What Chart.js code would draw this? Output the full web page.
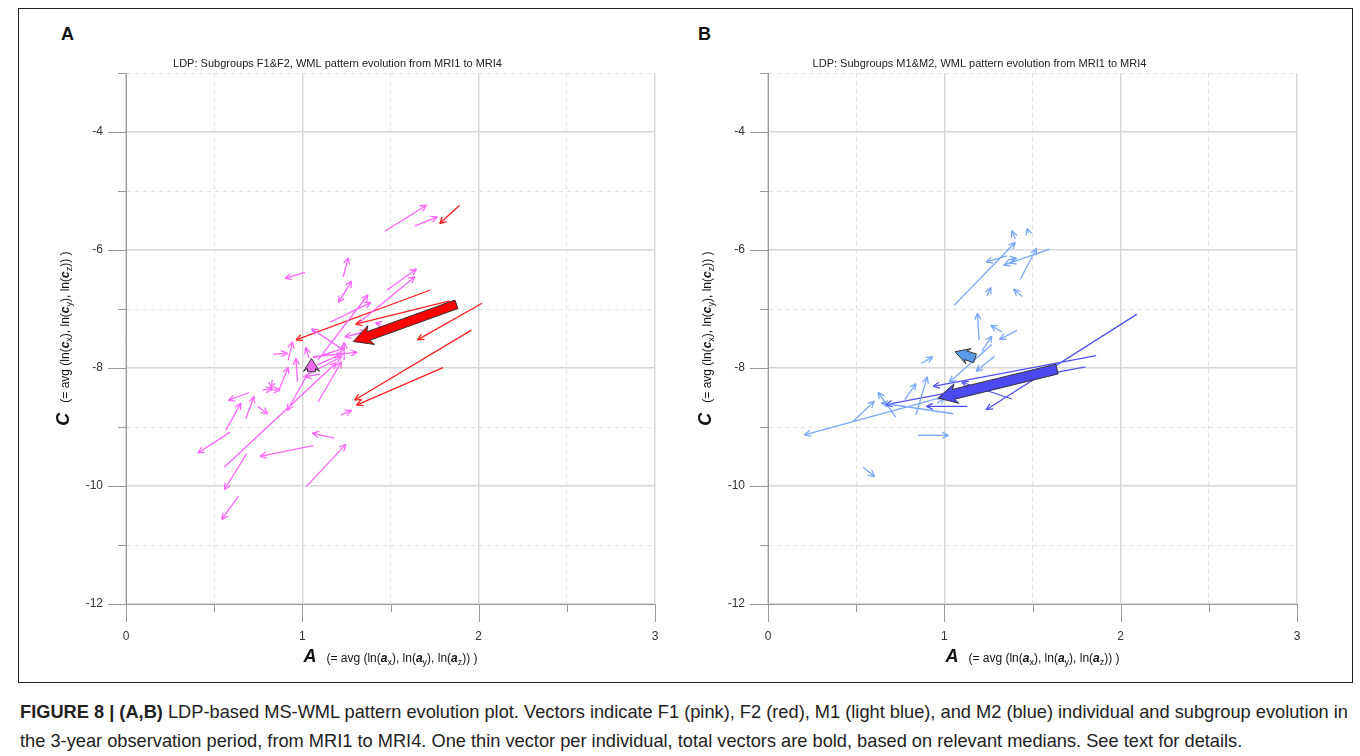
<!DOCTYPE html>
<html>
<head>
<title>LDP pattern evolution</title>
<script src="https://cdn.jsdelivr.net/npm/chart.js"></script>
<style>
    body {
        margin: 0;
        width: 1360px;
        height: 756px;
        position: relative;
        overflow: hidden;
        background: #fff;
        font-family: "Liberation Sans", Arial, sans-serif;
    }
    .frame {
        position: absolute;
        left: 18px;
        top: 8px;
        width: 1333px;
        height: 673px;
        border: 1px solid #222;
    }
    .panel { position: absolute; top: 40px; height: 640px; }
    #panelA { left: 20px; width: 672px; }
    #panelB { left: 662px; width: 676px; }
    .letter {
        position: absolute;
        top: 24px;
        font-size: 18px;
        font-weight: bold;
        color: #111;
    }
    .caption {
        position: absolute;
        left: 20px;
        top: 697px;
        font-family: "Liberation Sans Narrow", "Liberation Sans", Arial, sans-serif;
        font-size: 18.5px;
        line-height: 29px;
        color: #222;
        white-space: nowrap;
        transform-origin: 0 0;
    }
</style>
</head>
<body>
<div class="frame"></div>
<div class="letter" style="left:61px">A</div>
<div class="letter" style="left:698px">B</div>
<div class="panel" id="panelA"><canvas id="chartA"></canvas></div>
<div class="panel" id="panelB"><canvas id="chartB"></canvas></div>
<div class="caption" id="caption">
    <div><span id="firstLine"><b>FIGURE 8 | (A,B)</b> LDP-based MS-WML pattern evolution plot. Vectors indicate F1 (pink), F2 (red), M1 (light blue), and M2 (blue) individual and subgroup evolution in</span></div>
    <div>the 3-year observation period, from MRI1 to MRI4. One thin vector per individual, total vectors are bold, based on relevant medians. See text for details.</div>
</div>

<script>
    // each vector: start [A, C] -> end [A, C]
    const f1Start = [[1.468,-5.679],[1.638,-5.589],[1.015,-6.377],[1.232,-6.451],[1.232,-6.761],[1.26,-6.62],
        [1.481,-6.676],[1.317,-7.239],[1.157,-7.223],[1.089,-7.859],[1.445,-7.255],[1.223,-7.673],[1.326,-7.412],
        [1.237,-7.864],[1.061,-7.808],[0.835,-7.763],[0.92,-7.864],[1.038,-7.831],[1.005,-8.147],[1.099,-8.102],
        [0.973,-8.232],[0.698,-8.414],[0.774,-8.369],[0.83,-8.2],[0.817,-8.369],[0.864,-8.392],[0.679,-8.859],
        [0.566,-9.056],[0.747,-8.651],[0.591,-9.085],[0.557,-9.683],[1.03,-8.1],[1.09,-8.571],[1.219,-8.792],
        [1.181,-9.186],[1.062,-9.315],[0.685,-9.451],[1.021,-10.014],[0.638,-10.172],[1.06,-7.83],[1.08,-7.949],
        [1.251,-7.465]];
    const f1End = [[1.704,-5.239],[1.766,-5.437],[0.902,-6.479],[1.26,-6.13],[1.279,-6.524],[1.204,-6.885],
        [1.647,-6.321],[1.638,-6.451],[1.389,-6.885],[1.372,-6.761],[1.415,-7.235],[1.053,-7.335],[1.241,-7.469],
        [1.237,-7.564],[1.311,-7.734],[0.916,-7.751],[0.944,-7.554],[1.019,-7.651],[1.222,-7.808],[1.014,-8.147],
        [0.963,-7.836],[0.581,-8.549],[0.83,-8.358],[0.823,-8.352],[0.874,-8.369],[0.921,-7.986],[0.726,-8.482],
        [0.651,-8.594],[0.804,-8.775],[0.408,-9.439],[1.193,-7.91],[0.915,-8.72],[1.222,-7.893],[1.279,-8.718],
        [1.057,-9.101],[0.76,-9.496],[0.558,-10.059],[1.247,-9.293],[0.543,-10.566],[1.24,-7.66],[1.231,-7.751],
        [1.364,-7.369]];
    const f2Start = [[1.892,-5.239],[1.726,-6.676],[1.836,-6.862],[2.019,-6.901],[1.959,-7.356],[1.798,-7.992]];
    const f2End = [[1.779,-5.549],[0.964,-7.521],[1.302,-7.256],[1.653,-7.521],[1.297,-8.542],[1.307,-8.627]];
    const f1Total = [[1.052,-8.062],[1.052,-7.836]];
    const f2Total = [[1.874,-6.918],[1.289,-7.549]];

    const m1Start = [[1.402,-5.813],[1.478,-5.711],[1.055,-6.936],[1.598,-5.983],[1.431,-6.493],[1.355,-6.096],
        [1.36,-6.16],[1.42,-6.17],[1.241,-6.777],[1.442,-6.788],[1.197,-7.526],[1.326,-7.384],[1.412,-7.361],
        [1.213,-7.713],[1.269,-7.6],[1.285,-7.798],[0.868,-7.923],[0.839,-8.791],[0.776,-8.535],[0.482,-8.904],
        [0.975,-8.507],[0.725,-8.83],[1.051,-8.774],[0.852,-9.142],[0.539,-9.681],[0.96,-8.6]];
    const m1End = [[1.383,-5.67],[1.469,-5.631],[1.402,-5.87],[1.336,-6.255],[1.522,-5.972],[1.237,-6.199],
        [1.41,-6.14],[1.37,-6.22],[1.264,-6.635],[1.393,-6.664],[1.188,-7.072],[1.264,-7.276],[1.313,-7.514],
        [1.269,-7.458],[1.028,-8.241],[1.18,-8.053],[0.934,-7.81],[0.903,-8.15],[0.839,-8.263],[0.602,-8.564],
        [0.207,-9.131],[0.624,-8.411],[0.643,-8.592],[1.023,-9.142],[0.605,-9.84],[1.0,-8.5]];
    const m2Start = [[2.091,-7.089],[1.861,-7.787],[1.801,-7.98],[1.131,-8.649],[1.383,-8.524]];
    const m2End = [[1.237,-8.706],[0.937,-8.309],[0.668,-8.621],[0.899,-8.649],[1.099,-8.24]];
    const m1Total = [[1.174,-7.836],[1.061,-7.724]];
    const m2Total = [[1.639,-8.017],[0.964,-8.508]];

    const xTicks = [0, 0.5, 1, 1.5, 2, 2.5, 3];
    const yTicks = [-12, -11, -10, -9, -8, -7, -6, -5, -4, -3];

    function arrowData(starts, ends) {
        let pts = [];
        starts.forEach(function (s, i) {
            pts.push({x: s[0], y: s[1]}, {x: ends[i][0], y: ends[i][1]}, {x: null, y: null});
        });
        return pts;
    }

    function thinSet(starts, ends, color) {
        return {data: arrowData(starts, ends), borderColor: color, borderWidth: 1.3,
            pointRadius: 0, fill: false, tension: 0, arrow: 'thin'};
    }
    function boldSet(total, fillColor, size) {
        return {data: arrowData([total[0]], [total[1]]), showLine: false, borderWidth: 0,
            pointRadius: 0, arrow: 'bold', fillColor: fillColor, size: size};
    }

    // arrow heads + bold vectors, positioned from the points the scales placed
    const arrowPlugin = {
        id: 'arrowPlugin',
        afterDatasetsDraw(chart) {
            const ctx = chart.ctx;
            ctx.save();
            ['thin', 'bold'].forEach(function (kind) {
                chart.data.datasets.forEach(function (ds, di) {
                    if (ds.arrow !== kind) return;
                    const pts = chart.getDatasetMeta(di).data;
                    for (let i = 0; i + 1 < pts.length; i += 3) {
                        const a = pts[i], b = pts[i + 1];
                        const dx = b.x - a.x, dy = b.y - a.y;
                        const len = Math.hypot(dx, dy) || 1;
                        const ux = dx / len, uy = dy / len, nx = -uy, ny = ux;
                        if (kind === 'thin') {
                            const hl = 7, ang = 0.45;
                            ctx.strokeStyle = ds.borderColor;
                            ctx.lineWidth = 1.3;
                            ctx.beginPath();
                            for (const s of [1, -1]) {
                                const c = Math.cos(ang), sn = Math.sin(ang) * s;
                                const rx = ux * c - uy * sn, ry = ux * sn + uy * c;
                                ctx.moveTo(b.x, b.y);
                                ctx.lineTo(b.x - rx * hl, b.y - ry * hl);
                            }
                            ctx.stroke();
                        } else {
                            const sw = ds.size[0], hw = ds.size[1], hl = ds.size[2];
                            const bx = b.x - ux * hl, by = b.y - uy * hl;
                            ctx.beginPath();
                            ctx.moveTo(a.x + nx * sw, a.y + ny * sw);
                            ctx.lineTo(bx + nx * sw, by + ny * sw);
                            ctx.lineTo(bx - ux * 3 + nx * hw, by - uy * 3 + ny * hw);
                            ctx.lineTo(b.x, b.y);
                            ctx.lineTo(bx - ux * 3 - nx * hw, by - uy * 3 - ny * hw);
                            ctx.lineTo(bx - nx * sw, by - ny * sw);
                            ctx.lineTo(a.x - nx * sw, a.y - ny * sw);
                            ctx.closePath();
                            ctx.fillStyle = ds.fillColor;
                            ctx.fill();
                            ctx.strokeStyle = '#333';
                            ctx.lineWidth = 1;
                            ctx.stroke();
                        }
                    }
                });
            });
            ctx.restore();
        }
    };

    // tick marks outside the plot: long for labelled values, short otherwise
    const tickPlugin = {
        id: 'tickPlugin',
        afterDraw(chart) {
            const ctx = chart.ctx, xs = chart.scales.x, ys = chart.scales.y;
            const area = chart.chartArea;
            ctx.save();
            ctx.strokeStyle = '#999';
            ctx.lineWidth = 1;
            ctx.beginPath();
            xTicks.forEach(function (v) {
                const px = Math.round(xs.getPixelForValue(v)) + 0.5;
                ctx.moveTo(px, area.bottom);
                ctx.lineTo(px, area.bottom + (Number.isInteger(v) ? 18 : 8));
            });
            yTicks.forEach(function (v) {
                const py = Math.round(ys.getPixelForValue(v)) + 0.5;
                ctx.moveTo(area.left, py);
                ctx.lineTo(area.left - (v % 2 === 0 ? 18 : 8), py);
            });
            ctx.stroke();
            ctx.restore();
        }
    };

    function drawRich(ctx, parts, x, y) {
        let total = 0;
        parts.forEach(function (p) { ctx.font = p.f; total += ctx.measureText(p.t).width; });
        let cx = x - total / 2;
        parts.forEach(function (p) {
            ctx.font = p.f;
            ctx.fillText(p.t, cx, y + (p.dy || 0));
            cx += ctx.measureText(p.t).width;
        });
    }
    function richTitle(big, small) {
        const fam = '"Liberation Sans", Arial, sans-serif';
        const n = '12px ' + fam, bi = 'italic bold 12px ' + fam, sub = '9px ' + fam;
        return [
            {t: big, f: 'italic bold 18px ' + fam}, {t: '   (= avg (ln(', f: n},
            {t: small, f: bi}, {t: 'x', f: sub, dy: 3}, {t: '), ln(', f: n},
            {t: small, f: bi}, {t: 'y', f: sub, dy: 3}, {t: '), ln(', f: n},
            {t: small, f: bi}, {t: 'z', f: sub, dy: 3}, {t: ')) )', f: n}
        ];
    }
    const axisTitlePlugin = {
        id: 'axisTitlePlugin',
        afterDraw(chart) {
            const ctx = chart.ctx, a = chart.chartArea;
            ctx.save();
            ctx.fillStyle = '#111';
            ctx.textBaseline = 'alphabetic';
            drawRich(ctx, richTitle('A', 'a'), (a.left + a.right) / 2, a.bottom + 58);
            ctx.translate(a.left - 57, (a.top + a.bottom) / 2);
            ctx.rotate(-Math.PI / 2);
            drawRich(ctx, richTitle('C', 'c'), 0, 0);
            ctx.restore();
        }
    };

    function makeChart(id, title, datasets, rightPad) {
        return new Chart(document.getElementById(id), {
            type: 'line',
            data: {datasets: datasets},
            options: {
                responsive: true,
                maintainAspectRatio: false,
                animation: false,
                layout: {padding: {left: 0, right: rightPad, top: 0, bottom: 0}},
                plugins: {
                    legend: {display: false},
                    tooltip: {enabled: false},
                    title: {
                        display: true,
                        text: title,
                        color: '#222',
                        font: {family: '"Liberation Sans", Arial, sans-serif', size: 11, weight: 'normal'},
                        padding: {top: 17, bottom: 3}
                    }
                },
                scales: {
                    x: {
                        type: 'linear', min: 0, max: 3,
                        afterFit: function (s) { s.height = 76; },
                        ticks: {
                            stepSize: 0.5, autoSkip: false, padding: 25, color: '#333',
                            font: {family: '"Liberation Sans", Arial, sans-serif', size: 12},
                            callback: function (v) { return Number.isInteger(v) ? String(v) : ''; }
                        },
                        grid: {
                            drawTicks: false,
                            color: function (c) { return Number.isInteger(c.tick.value) ? '#d8d8d8' : '#e2e2e2'; },
                            lineWidth: function (c) { return Number.isInteger(c.tick.value) ? 1.5 : 1; }
                        },
                        border: {
                            display: true, color: '#999', width: 1,
                            dash: function (c) { return c.tick && !Number.isInteger(c.tick.value) ? [4, 4] : []; }
                        }
                    },
                    y: {
                        type: 'linear', min: -12, max: -3,
                        afterFit: function (s) { s.width = 106; },
                        ticks: {
                            stepSize: 1, autoSkip: false, padding: 23, color: '#333',
                            font: {family: '"Liberation Sans", Arial, sans-serif', size: 12},
                            callback: function (v) { return v % 2 === 0 ? String(v) : ''; }
                        },
                        grid: {
                            drawTicks: false,
                            color: function (c) { return c.tick.value % 2 === 0 ? '#d8d8d8' : '#e2e2e2'; },
                            lineWidth: function (c) { return c.tick.value % 2 === 0 ? 1.5 : 1; }
                        },
                        border: {
                            display: true, color: '#999', width: 1,
                            dash: function (c) { return c.tick && c.tick.value % 2 !== 0 ? [4, 4] : []; }
                        }
                    }
                }
            },
            plugins: [arrowPlugin, tickPlugin, axisTitlePlugin]
        });
    }

    makeChart('chartA', 'LDP: Subgroups F1&F2, WML pattern evolution from MRI1 to MRI4', [
        thinSet(f1Start, f1End, '#ff66ff'),
        thinSet(f2Start, f2End, '#ff2020'),
        boldSet(f1Total, '#ee6aee', [4, 8, 10]),
        boldSet(f2Total, '#ff0000', [4.5, 10, 16])
    ], 37);

    makeChart('chartB', 'LDP: Subgroups M1&M2, WML pattern evolution from MRI1 to MRI4', [
        thinSet(m1Start, m1End, '#7aa8f8'),
        thinSet(m2Start, m2End, '#5050f5'),
        boldSet(m1Total, '#5b9be8', [4.5, 8, 11]),
        boldSet(m2Total, '#4a4af0', [5, 10, 16])
    ], 41);

    // fit the caption's first line to the printed width
    const cap = document.getElementById('caption');
    const w = document.getElementById('firstLine').getBoundingClientRect().width;
    cap.style.transform = 'scaleX(' + (1328 / w) + ')';
</script>
</body>
</html>
